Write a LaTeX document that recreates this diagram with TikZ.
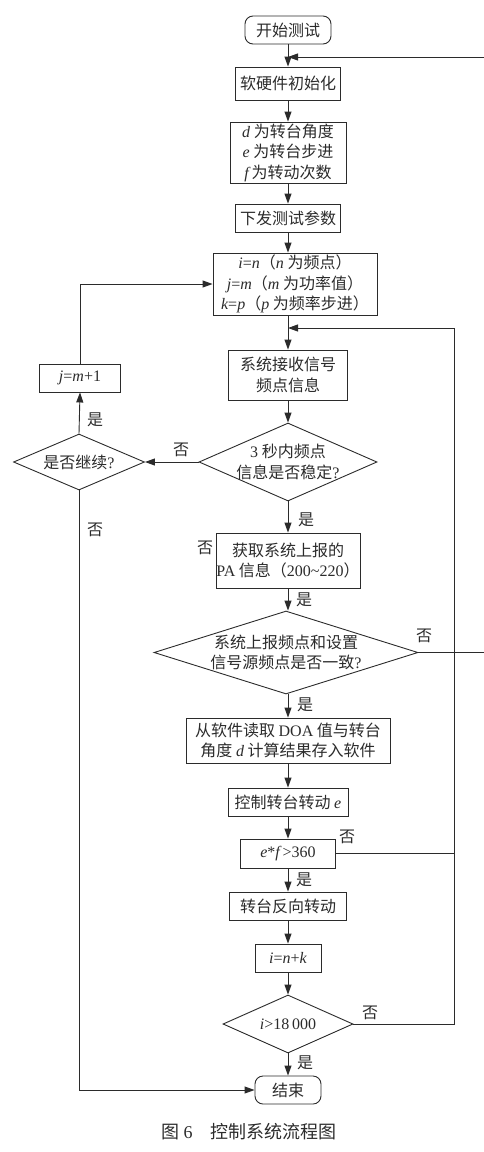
\documentclass[tikz,border=0pt]{standalone}
\usepackage{fontspec}
\setmainfont{Noto Sans CJK SC}
\newfontfamily\latin{Liberation Serif}
\newcommand{\mv}[1]{{\latin\itshape #1}}
\newcommand{\tx}[1]{{\latin #1}}
\usepackage{tikz}
\usetikzlibrary{shapes.geometric, arrows.meta, positioning}
\definecolor{inkgray}{HTML}{2B2B2B}

\tikzset{
  procbox/.style={draw, rectangle, inner sep=0pt, align=center},
  termbox/.style={draw, rectangle, rounded corners=8pt, inner sep=0pt},
  decide/.style={draw, diamond, inner sep=-3pt, align=center},
  flow/.style={-{Triangle[length=10pt,width=7pt]}},
  yn/.style={inner sep=0pt}
}

\begin{document}
\begin{tikzpicture}[x=1pt, y=-1pt, line width=0.9pt, draw=inkgray, text=inkgray,
    font=\fontsize{16}{20.5}\selectfont]
    \useasboundingbox (0,0) rectangle (484,1152);
    \clip (0,0) rectangle (484,1152);
    % main column
    \node[termbox, minimum width=86pt, minimum height=28pt] (start) at (288,30) {开始测试};
    \node[procbox, minimum width=105pt, minimum height=33pt] (init) at (288,83.5) {软硬件初始化};
    \node[procbox, minimum width=116pt, minimum height=61pt] (def) at (288,152.5)
        {\mv{d} 为转台角度\\\mv{e} 为转台步进\\\mv{f}\,为转动次数};
    \node[procbox, minimum width=105pt, minimum height=28pt] (send) at (288,218) {下发测试参数};
    \node[procbox, minimum width=164pt, minimum height=62pt] (param) at (295,284)
        {\mv{i}\tx{=}\mv{n}（\mv{n} 为频点）\\\mv{j}\tx{=}\mv{m}（\mv{m} 为功率值）\\\mv{k}\tx{=}\mv{p}（\mv{p} 为频率步进）};
    \node[procbox, minimum width=119pt, minimum height=50pt] (recv) at (288,375) {系统接收信号\\频点信息};
    \node[decide, aspect=2.28, minimum width=178pt, minimum height=78pt] (stable) at (288,462)
        {\tx{3} 秒内频点\\信息是否稳定\tx{?}};
    \node[procbox, minimum width=144pt, minimum height=55pt] (pa) at (288,560.5)
        {获取系统上报的\\\tx{PA} 信息（\tx{200\textasciitilde220}）};
    \node[decide, aspect=3.18, minimum width=264pt, minimum height=83pt] (match) at (286,652.5)
        {系统上报频点和设置\\信号源频点是否一致\tx{?}};
    \node[procbox, minimum width=204pt, minimum height=45pt] (doa) at (288,740.5)
        {从软件读取 \tx{DOA} 值与转台\\角度 \mv{d} 计算结果存入软件};
    \node[procbox, minimum width=120pt, minimum height=28pt] (rot) at (288,802) {控制转台转动 \mv{e}};
    \node[procbox, minimum width=95pt, minimum height=29pt] (check) at (288,853.5) {\mv{e}\tx{*}\mv{f}\,\tx{>360}};
    \node[procbox, minimum width=117pt, minimum height=28pt] (rev) at (288,906) {转台反向转动};
    \node[procbox, minimum width=66pt, minimum height=28pt] (inc) at (288,958) {\mv{i}\tx{=}\mv{n}\tx{+}\mv{k}};
    \node[decide, aspect=2.24, minimum width=130pt, minimum height=58pt] (final) at (288,1024) {\mv{i}\tx{>18\,000}};
    \node[termbox, minimum width=66pt, minimum height=28pt] (end) at (288,1090) {结束};
    % left branch
    \node[decide, aspect=2.34, minimum width=131pt, minimum height=56pt] (cont) at (79,462) {是否继续\tx{?}};
    \node[procbox, minimum width=81pt, minimum height=28pt] (jinc) at (80,378) {\mv{j}\tx{=}\mv{m}\tx{+1}};
    % yes / no labels
    \node[yn] (n1) at (181,450) {否};
    \node[yn] (y1) at (95,420) {是};
    \node[yn] (n2) at (95,530) {否};
    \node[yn] (y2) at (306,520) {是};
    \node[yn] (n3) at (205,548) {否};
    \node[yn] (y3) at (304,600) {是};
    \node[yn] (n4) at (424,636) {否};
    \node[yn] (y4) at (305,705) {是};
    \node[yn] (n5) at (347,837) {否};
    \node[yn] (y5) at (304,880) {是};
    \node[yn] (n6) at (370,1013) {否};
    \node[yn] (y6) at (305,1063) {是};
    \node[font=\fontsize{18}{20}\selectfont] (cap) at (249,1132) {图 \tx{6}　控制系统流程图};
    % loop corners
    \coordinate (rtop) at (492,57);
    \coordinate (rbot) at (492,652.5);
    \coordinate (rin) at (454,328);
    % connectors
    \draw[flow] (start) -- (init);
    \draw[flow] (init) -- (def);
    \draw[flow] (def) -- (send);
    \draw[flow] (send) -- (send |- param.north);
    \draw[flow] (param.south -| recv) -- (recv);
    \draw[flow] (recv) -- (stable);
    \draw[flow] (stable) -- (pa);
    \draw[flow] (pa) -- (match.north -| pa);
    \draw[flow] (match.south -| doa) -- (doa);
    \draw[flow] (doa) -- (rot);
    \draw[flow] (rot) -- (check);
    \draw[flow] (check) -- (rev);
    \draw[flow] (rev) -- (inc);
    \draw[flow] (inc) -- (final);
    \draw[flow] (final) -- (end);
    \draw[flow] (stable.west) -- (cont.east);
    \draw[flow] (cont.north) -- (jinc.south);
    \draw[flow] (jinc.north) |- (param.west);
    \draw[flow] (cont.south) |- (end.west);
    \draw[flow] (match.east) -- (rbot) -- (rtop) -- (start |- rtop);
    \draw[flow] (final.east) -| (rin) -- (recv |- rin);
    \draw (check.east) -- (check.east -| rin);
\end{tikzpicture}
\end{document}
